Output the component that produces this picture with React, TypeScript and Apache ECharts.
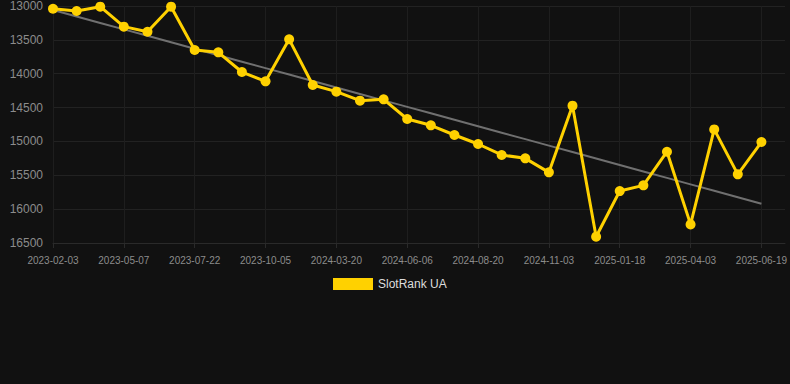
import React, { useEffect, useRef } from "react";
import * as echarts from "echarts";

const categories: string[] = [
  "2023-02-03", "2023-03-05", "2023-04-06", "2023-05-07", "2023-06-01", "2023-06-27",
  "2023-07-22", "2023-08-16", "2023-09-10", "2023-10-05", "2023-12-01", "2024-02-01",
  "2024-03-20", "2024-04-15", "2024-05-11", "2024-06-06", "2024-07-01", "2024-07-26",
  "2024-08-20", "2024-09-14", "2024-10-09", "2024-11-03", "2024-11-28", "2024-12-23",
  "2025-01-18", "2025-02-12", "2025-03-09", "2025-04-03", "2025-04-29", "2025-05-24",
  "2025-06-19", "",
];

const rankValues: number[] = [
  13040, 13074, 13010, 13305, 13380, 13010, 13650, 13684, 13975, 14112,
  13492, 14167, 14265, 14398, 14378, 14669, 14762, 14905, 15038, 15200,
  15250, 15457, 14472, 16407, 15733, 15649, 15152, 16225, 14822, 15486,
  15009,
];

const yTicks = { min: 13000, max: 16500, interval: 500 };

function trendLine(vals: number[]): number[] {
  const n = vals.length;
  let sx = 0, sy = 0, sxy = 0, sxx = 0;
  vals.forEach((v, i) => { sx += i; sy += v; sxy += i * v; sxx += i * i; });
  const slope = (n * sxy - sx * sy) / (n * sxx - sx * sx);
  const icpt = (sy - slope * sx) / n;
  return vals.map((_, i) => icpt + slope * i);
}

export default function App() {
  const ref = useRef<HTMLDivElement>(null);
  useEffect(() => {
    document.body.style.margin = "0";
    const chart = echarts.init(ref.current!, null, { renderer: "svg" });
    const font = "Liberation Sans, Arial, sans-serif";
    chart.setOption({
      animation: false,
      backgroundColor: "#111111",
      textStyle: { fontFamily: font },
      grid: { left: 53, right: 4, top: 6, bottom: 141 },
      legend: {
        data: ["SlotRank UA"],
        top: 273,
        left: 328,
        icon: "rect",
        itemWidth: 40,
        itemHeight: 12,
        textStyle: { color: "#dddddd", fontSize: 12, fontFamily: font },
      },
      xAxis: {
        type: "category",
        data: categories,
        boundaryGap: false,
        axisLine: { show: true, lineStyle: { color: "#2a2a2a" } },
        axisTick: { show: true, interval: 2, lineStyle: { color: "#2a2a2a" } },
        axisLabel: { interval: 2, color: "#8c8c8c", fontSize: 10, margin: 12, fontFamily: font },
        splitLine: { show: true, interval: 2, lineStyle: { color: "#1e1e1e" } },
      },
      yAxis: {
        type: "value",
        inverse: true,
        min: yTicks.min,
        max: yTicks.max,
        interval: yTicks.interval,
        axisLine: { show: false },
        axisTick: { show: false },
        axisLabel: {
          color: "#8c8c8c",
          fontSize: 12,
          margin: 10,
          fontFamily: font,
          formatter: (v: number) => String(v),
        },
        splitLine: { show: true, lineStyle: { color: "#222222" } },
      },
      series: [
        {
          name: "Trend",
          type: "line",
          data: trendLine(rankValues),
          symbol: "none",
          lineStyle: { color: "#707070", width: 2 },
          z: 1,
        },
        {
          name: "SlotRank UA",
          type: "line",
          data: rankValues,
          symbol: "circle",
          symbolSize: 10,
          itemStyle: { color: "#FFD100" },
          lineStyle: { color: "#FFD100", width: 3 },
          z: 2,
        },
      ],
    });
    return () => chart.dispose();
  }, []);
  return <div ref={ref} style={{ width: 790, height: 384 }} />;
}
